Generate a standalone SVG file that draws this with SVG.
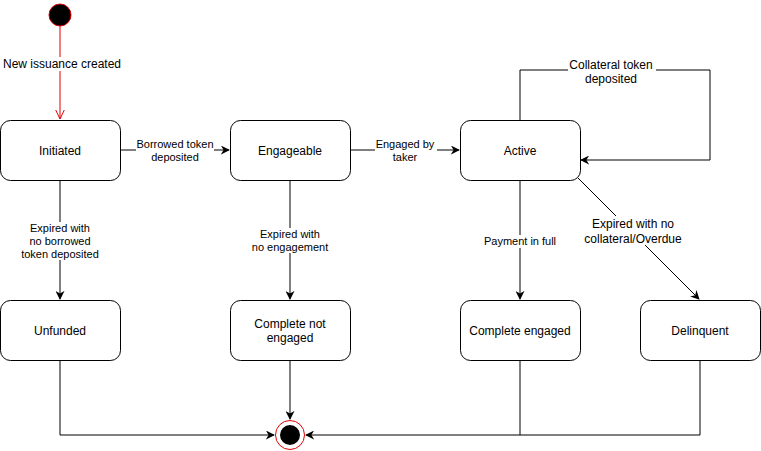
<svg xmlns="http://www.w3.org/2000/svg" width="761" height="451" viewBox="0 0 761 451">
  <style>
    .node rect { fill: #ffffff; stroke: #000000; stroke-width: 1; }
    .node text { font-family: "Liberation Sans", Arial, sans-serif; font-size: 12px; fill: #000000; text-anchor: middle; }
    .edge { fill: none; stroke: #000000; stroke-width: 1; }
    .lbl { font-family: "Liberation Sans", Arial, sans-serif; font-size: 11px; fill: #000000; text-anchor: middle; }
    .lblbg { fill: #ffffff; }
  </style>
  <defs>
    <marker id="arrow" viewBox="0 0 10 10" refX="9" refY="5" markerWidth="9" markerHeight="9" markerUnits="userSpaceOnUse" orient="auto">
      <path d="M0,0 L10,5 L0,10 L3,5 Z" fill="#000000"/>
    </marker>
    <marker id="open-red" viewBox="0 0 10 10" refX="9.5" refY="5" markerWidth="10" markerHeight="10" markerUnits="userSpaceOnUse" orient="auto">
      <path d="M0,0.5 L9.5,5 L0,9.5" fill="none" stroke="#e00000" stroke-width="1"/>
    </marker>
  </defs>

  <rect width="761" height="451" fill="#ffffff"/>

  <!-- connectors -->
  <g id="connectors">
    <path class="edge" d="M60,26 L60,119" stroke="#e00000" style="stroke:#e00000" marker-end="url(#open-red)"/>
    <rect class="lblbg" x="2" y="57" width="120" height="14"/>
    <text class="lbl" x="62" y="68" style="font-size:12px">New issuance created</text>

    <path class="edge" d="M120,150 L229,150" marker-end="url(#arrow)"/>
    <rect class="lblbg" x="136" y="139" width="78" height="25"/>
    <text class="lbl" x="175" y="148">Borrowed token</text>
    <text class="lbl" x="175" y="161">deposited</text>

    <path class="edge" d="M350,150 L459,150" marker-end="url(#arrow)"/>
    <rect class="lblbg" x="375" y="139" width="62" height="25"/>
    <text class="lbl" x="405" y="148">Engaged by</text>
    <text class="lbl" x="405" y="161">taker</text>

    <path class="edge" d="M520,120 L520,70 L710,70 L710,160 L581,160" marker-end="url(#arrow)"/>
    <rect class="lblbg" x="568" y="59" width="88" height="26"/>
    <text class="lbl" x="611" y="69" style="font-size:12px">Collateral token</text>
    <text class="lbl" x="611" y="83" style="font-size:12px">deposited</text>

    <path class="edge" d="M60,180 L60,299" marker-end="url(#arrow)"/>
    <rect class="lblbg" x="18" y="222" width="84" height="38"/>
    <text class="lbl" x="60" y="232">Expired with</text>
    <text class="lbl" x="60" y="245">no borrowed</text>
    <text class="lbl" x="60" y="258">token deposited</text>

    <path class="edge" d="M290,180 L290,299" marker-end="url(#arrow)"/>
    <rect class="lblbg" x="250" y="228" width="80" height="25"/>
    <text class="lbl" x="290" y="238">Expired with</text>
    <text class="lbl" x="290" y="251">no engagement</text>

    <path class="edge" d="M520,180 L520,299" marker-end="url(#arrow)"/>
    <rect class="lblbg" x="482" y="235" width="76" height="13"/>
    <text class="lbl" x="520" y="245">Payment in full</text>

    <path class="edge" d="M578,178 L699,299" stroke-width="0.8" marker-end="url(#arrow)"/>
    <rect class="lblbg" x="583" y="216" width="100" height="29"/>
    <text class="lbl" x="633" y="228" style="font-size:12px">Expired with no</text>
    <text class="lbl" x="633" y="243" style="font-size:12px">collateral/Overdue</text>

    <path class="edge" d="M60,360 L60,435 L274,435" marker-end="url(#arrow)"/>
    <path class="edge" d="M290,360 L290,419" marker-end="url(#arrow)"/>
    <path class="edge" d="M520,360 L520,435"/>
    <path class="edge" d="M700,360 L700,435 L306,435" marker-end="url(#arrow)"/>
  </g>

  <!-- states -->
  <g id="start">
    <circle cx="60" cy="15" r="11" fill="#000000" stroke="#e00000" stroke-width="1"/>
  </g>
  <g id="initiated" class="node">
    <rect x="0.5" y="120.5" width="120" height="60" rx="10"/>
    <text x="60" y="155">Initiated</text>
  </g>
  <g id="engageable" class="node">
    <rect x="230.5" y="120.5" width="120" height="60" rx="10"/>
    <text x="290" y="155">Engageable</text>
  </g>
  <g id="active" class="node">
    <rect x="460.5" y="120.5" width="120" height="60" rx="10"/>
    <text x="520" y="155">Active</text>
  </g>
  <g id="unfunded" class="node">
    <rect x="0.5" y="300.5" width="120" height="60" rx="10"/>
    <text x="60" y="335">Unfunded</text>
  </g>
  <g id="complete-not-engaged" class="node">
    <rect x="230.5" y="300.5" width="120" height="60" rx="10"/>
    <text x="290" y="328">Complete not</text>
    <text x="290" y="342">engaged</text>
  </g>
  <g id="complete-engaged" class="node">
    <rect x="460.5" y="300.5" width="120" height="60" rx="10"/>
    <text x="520" y="335">Complete engaged</text>
  </g>
  <g id="delinquent" class="node">
    <rect x="640.5" y="300.5" width="120" height="60" rx="10"/>
    <text x="700" y="335">Delinquent</text>
  </g>
  <g id="end">
    <circle cx="290" cy="435" r="14.5" fill="#ffffff" stroke="#e00000" stroke-width="1"/>
    <circle cx="290" cy="435" r="10" fill="#000000"/>
  </g>
</svg>
